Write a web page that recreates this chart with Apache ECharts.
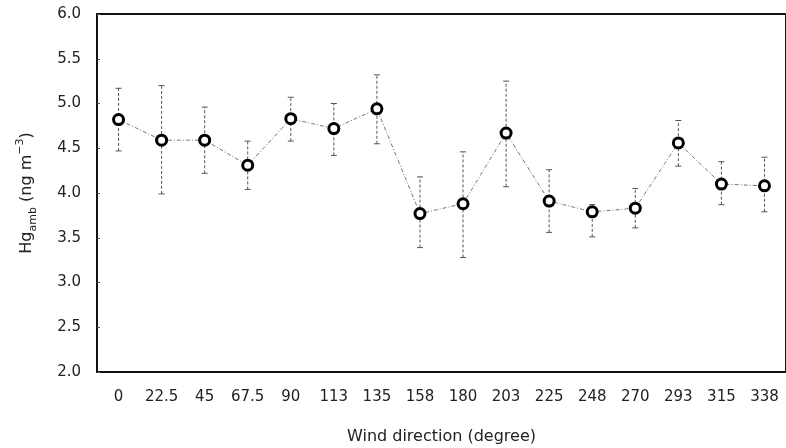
<!DOCTYPE html>
<html><head><meta charset="utf-8">
<script src="https://cdn.jsdelivr.net/npm/echarts@6/dist/echarts.min.js"></script>
<style>html,body{margin:0;padding:0;background:#fff}#c{width:786px;height:448px}</style>
</head><body><div id="c"></div>
<script>
const categories = ['0','22.5','45','67.5','90','113','135','158','180','203','225','248','270','293','315','338'];
const meanValues = [4.82,4.59,4.59,4.31,4.83,4.72,4.94,3.77,3.88,4.67,3.91,3.79,3.83,4.56,4.10,4.08];
const upperValues = [5.17,5.20,4.96,4.58,5.07,5.00,5.32,4.18,4.46,5.25,4.26,3.87,4.05,4.81,4.35,4.40];
const lowerValues = [4.47,3.99,4.22,4.04,4.58,4.42,4.55,3.39,3.28,4.07,3.56,3.51,3.61,4.30,3.87,3.79];
const yTicks = [2.0,2.5,3.0,3.5,4.0,4.5,5.0,5.5,6.0];

const font = 'DejaVu Sans';
const errData = categories.map((c,i)=>[i, lowerValues[i], upperValues[i]]);
const chart = echarts.init(document.getElementById('c'), null, {renderer:'canvas'});
chart.setOption({
  animation:false,
  backgroundColor:'#fff',
  grid:{left:97,right:0,top:14,bottom:76,show:true,borderColor:'#111',borderWidth:2,backgroundColor:'transparent',outerBoundsMode:'none',containLabel:false},
  xAxis:{
    type:'category', data:categories, boundaryGap:true,
    axisLine:{lineStyle:{color:'#111',width:1.5}},
    axisTick:{show:false},
    axisLabel:{color:'#222',fontSize:15,fontFamily:font,margin:18,interval:0,hideOverlap:false},
    name:'Wind direction (degree)', nameLocation:'middle', nameGap:57,
    nameTextStyle:{color:'#222',fontSize:16,fontFamily:font}
  },
  yAxis:{
    type:'value', min:yTicks[0], max:yTicks[yTicks.length-1], interval:0.5,
    splitLine:{show:false},
    axisLine:{show:true,lineStyle:{color:'#111',width:2}},
    axisTick:{show:true,inside:true,length:3,lineStyle:{color:'#555'}},
    axisLabel:{color:'#222',fontSize:15,fontFamily:font,margin:16,formatter:v=>v.toFixed(1)},
    name:'{b|Hg}{s|amb}{b| (ng m}{p|−3}{b|)}', nameLocation:'middle', nameGap:58, nameRotate:90,
    nameTextStyle:{rich:{
      b:{fontSize:16,fontFamily:font,color:'#222',lineHeight:24,verticalAlign:'middle'},
      s:{fontSize:11,fontFamily:font,color:'#222',lineHeight:24,verticalAlign:'bottom',padding:[7,0,0,0]},
      p:{fontSize:11,fontFamily:font,color:'#222',lineHeight:24,verticalAlign:'top',padding:[0,0,9,0]}
    }}
  },
  series:[
    {
      type:'custom', data:errData, z:1,
      renderItem:function(params, api){
        const x = api.value(0);
        const lo = api.coord([x, api.value(1)]);
        const hi = api.coord([x, api.value(2)]);
        const w = 3;
        const st = {stroke:'#555',lineWidth:1,lineDash:[3,2]};
        return {type:'group',children:[
          {type:'line',shape:{x1:lo[0],y1:lo[1],x2:hi[0],y2:hi[1]},style:st},
          {type:'line',shape:{x1:hi[0]-w,y1:hi[1],x2:hi[0]+w,y2:hi[1]},style:{stroke:'#555',lineWidth:1}},
          {type:'line',shape:{x1:lo[0]-w,y1:lo[1],x2:lo[0]+w,y2:lo[1]},style:{stroke:'#555',lineWidth:1}}
        ]};
      }
    },
    {
      type:'line', data:meanValues, z:3,
      lineStyle:{color:'#777',width:1,type:[4,2,1,2]},
      symbol:'circle', symbolSize:10,
      itemStyle:{color:'#fff',borderColor:'#000',borderWidth:3}
    }
  ]
});
</script></body></html>
